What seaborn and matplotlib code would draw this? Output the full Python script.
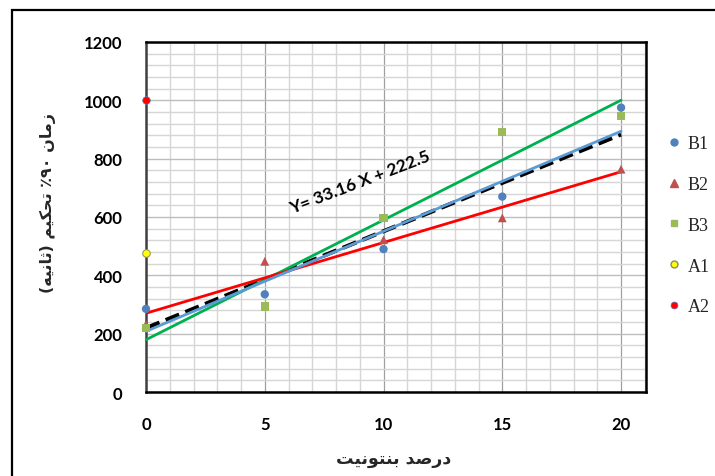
import numpy as np
import pandas as pd
import matplotlib
matplotlib.use("Agg")
import matplotlib.pyplot as plt
import seaborn as sns
from matplotlib.patches import Rectangle
from matplotlib.ticker import MultipleLocator
from matplotlib.lines import Line2D

# ---------------- data ----------------
x_vals = [0, 5, 10, 15, 20]
b1 = [285, 335, 490, 670, 975]
b2 = [232, 448, 522, 597, 764]
b3 = [220, 293, 597, 892, 947]
a1_x, a1_y = [0], [478]
a2_x, a2_y = [0], [1000]
equation_text = "Y= 33.16 X + 222.5"
x_label = "درصد بنتونیت"
y_label = "زمان ۹۰٪ تحکیم (ثانیه)"
legend_labels = ["B1", "B2", "B3", "A1", "A2"]

# ------------- simple Persian shaping -------------
FORMS = {  # iso, fin, ini, med
    'ا': ('\uFE8D', '\uFE8E', None, None),
    'ب': ('\uFE8F', '\uFE90', '\uFE91', '\uFE92'),
    'ت': ('\uFE95', '\uFE96', '\uFE97', '\uFE98'),
    'ث': ('\uFE99', '\uFE9A', '\uFE9B', '\uFE9C'),
    'ح': ('\uFEA1', '\uFEA2', '\uFEA3', '\uFEA4'),
    'د': ('\uFEA9', '\uFEAA', None, None),
    'ر': ('\uFEAD', '\uFEAE', None, None),
    'ز': ('\uFEAF', '\uFEB0', None, None),
    'ص': ('\uFEB9', '\uFEBA', '\uFEBB', '\uFEBC'),
    'م': ('\uFEE1', '\uFEE2', '\uFEE3', '\uFEE4'),
    'ن': ('\uFEE5', '\uFEE6', '\uFEE7', '\uFEE8'),
    'ه': ('\uFEE9', '\uFEEA', '\uFEEB', '\uFEEC'),
    'و': ('\uFEED', '\uFEEE', None, None),
    'ک': ('\uFB8E', '\uFB8F', '\uFB90', '\uFB91'),
    'ی': ('\uFBFC', '\uFBFD', '\uFBFE', '\uFBFF'),
}
MIRROR = {'(': ')', ')': '('}


def shape_word(w):
    out = []
    for i, ch in enumerate(w):
        if ch not in FORMS:
            out.append(ch)
            continue
        prev = w[i - 1] if i > 0 else None
        nxt = w[i + 1] if i + 1 < len(w) else None
        join_prev = prev in FORMS and FORMS[prev][2] is not None
        dual = FORMS[ch][2] is not None
        join_next = dual and nxt in FORMS
        f = FORMS[ch]
        if join_prev and join_next:
            out.append(f[3])
        elif join_prev:
            out.append(f[1])
        elif join_next:
            out.append(f[2])
        else:
            out.append(f[0])
    return out


def visual(text):
    words = text.split(' ')
    vis_words = []
    for w in words:
        if any(c in FORMS for c in w):
            chars = shape_word(w)[::-1]
            vis_words.append(''.join(MIRROR.get(c, c) for c in chars))
        else:
            digits = ''.join(c for c in w if c != '٪')
            pct = '٪' if '٪' in w else ''
            vis_words.append(pct + digits)
    return ' '.join(vis_words[::-1])


# ---------------- figure ----------------
sns.set_theme(style="white")
plt.rcParams['font.family'] = ['Lato', 'DejaVu Sans']

fig = plt.figure(figsize=(7.15, 4.77), dpi=100)
W, H = 715, 477
ax = fig.add_axes([146 / W, 1 - 393 / H, 500 / W, 350 / H])

ax.set_xlim(0, 21.05)
ax.set_ylim(0, 1200)

ax.xaxis.set_major_locator(MultipleLocator(5))
ax.xaxis.set_minor_locator(MultipleLocator(1))
ax.yaxis.set_major_locator(MultipleLocator(200))
ax.yaxis.set_minor_locator(MultipleLocator(40))
ax.grid(which='minor', color='#D6D6D6', lw=1.0)
ax.grid(which='major', axis='y', color='#BDBDBD', lw=1.0)
ax.grid(which='major', axis='x', color='#A0A0A0', lw=0.9)
ax.set_axisbelow(True)

df = pd.DataFrame({
    'x': x_vals * 3,
    'y': b1 + b2 + b3,
    's': ['B1'] * 5 + ['B2'] * 5 + ['B3'] * 5,
})

# trend lines
sns.regplot(data=df, x='x', y='y', ax=ax, scatter=False, ci=None,
            line_kws=dict(color='black', lw=3, ls=(0, (3.5, 1.6)), zorder=3))
sns.regplot(x=x_vals, y=b3, ax=ax, scatter=False, ci=None,
            line_kws=dict(color='#00B050', lw=2, zorder=4))
sns.regplot(x=x_vals, y=b2, ax=ax, scatter=False, ci=None,
            line_kws=dict(color='#FF0000', lw=2, zorder=4))
sns.regplot(x=x_vals, y=b1, ax=ax, scatter=False, ci=None,
            line_kws=dict(color='#5B9BD5', lw=2, zorder=5))

# points
sns.scatterplot(x=x_vals, y=b1, ax=ax, marker='o', color='#4F81BD', s=36,
                edgecolor='none', zorder=6, clip_on=False)
sns.scatterplot(x=x_vals, y=b2, ax=ax, marker='^', color='#C0504D', s=40,
                edgecolor='none', zorder=6, clip_on=False)
sns.scatterplot(x=x_vals, y=b3, ax=ax, marker='s', color='#9BBB59', s=36,
                edgecolor='none', zorder=6, clip_on=False)
sns.scatterplot(x=a1_x, y=a1_y, ax=ax, marker='o', color='#FFFF00', s=30,
                edgecolor='#8C8C5A', linewidth=0.7, zorder=6, clip_on=False)
sns.scatterplot(x=a2_x, y=a2_y, ax=ax, marker='o', color='#FF0000', s=30,
                edgecolor='#4F81BD', linewidth=0.5, zorder=6, clip_on=False)

for sp in ax.spines.values():
    sp.set_color('black')
    sp.set_linewidth(1.8)
    sp.set_visible(True)
ax.spines['left'].set_color('#404040')

ax.tick_params(axis='both', which='major', length=5, width=1, color='#808080',
               direction='out', labelsize=12, labelcolor='black')
ax.tick_params(axis='x', which='major', pad=12)
ax.tick_params(axis='y', which='major', pad=12)
ax.tick_params(which='minor', length=0)
for lab in ax.get_xticklabels() + ax.get_yticklabels():
    lab.set_fontweight('bold')
ax.set_xlabel('')
ax.set_ylabel('')

ax.text(9.0, 722, equation_text, rotation=21, ha='center', va='center',
        fontsize=12.5, fontweight='bold', color='black', zorder=7)

fig.text(394 / W, 1 - 459 / H, visual(x_label), ha='center', va='center',
         fontsize=12.5, fontweight='bold', family='DejaVu Sans')
fig.text(48 / W, 1 - 203 / H, visual(y_label), ha='center', va='center',
         rotation=90, fontsize=11.5, fontweight='bold', family='DejaVu Sans')

# legend
handles = [
    Line2D([], [], ls='none', marker='o', color='#4F81BD', markersize=5),
    Line2D([], [], ls='none', marker='^', color='#C0504D', markersize=5.5),
    Line2D([], [], ls='none', marker='s', color='#9BBB59', markersize=5),
    Line2D([], [], ls='none', marker='o', markerfacecolor='#FFFF00',
           markeredgecolor='#8C8C5A', markersize=5),
    Line2D([], [], ls='none', marker='o', markerfacecolor='#FF0000',
           markeredgecolor='#4F81BD', markeredgewidth=0.5, markersize=5),
]
fig.legend(handles, legend_labels, loc='upper left',
           bbox_to_anchor=(658 / W, 1 - 127 / H), frameon=False,
           prop=dict(family='Liberation Serif', size=13),
           labelspacing=1.32, handlelength=0.8, handletextpad=0.35,
           borderpad=0)

# outer chart border
fig.patches.append(Rectangle((12 / W, -0.05), 1.1, 1 - 11 / H + 0.05,
                             transform=fig.transFigure, fill=False,
                             edgecolor='black', lw=1.6, zorder=0))

fig.savefig('out.png', dpi=100)
